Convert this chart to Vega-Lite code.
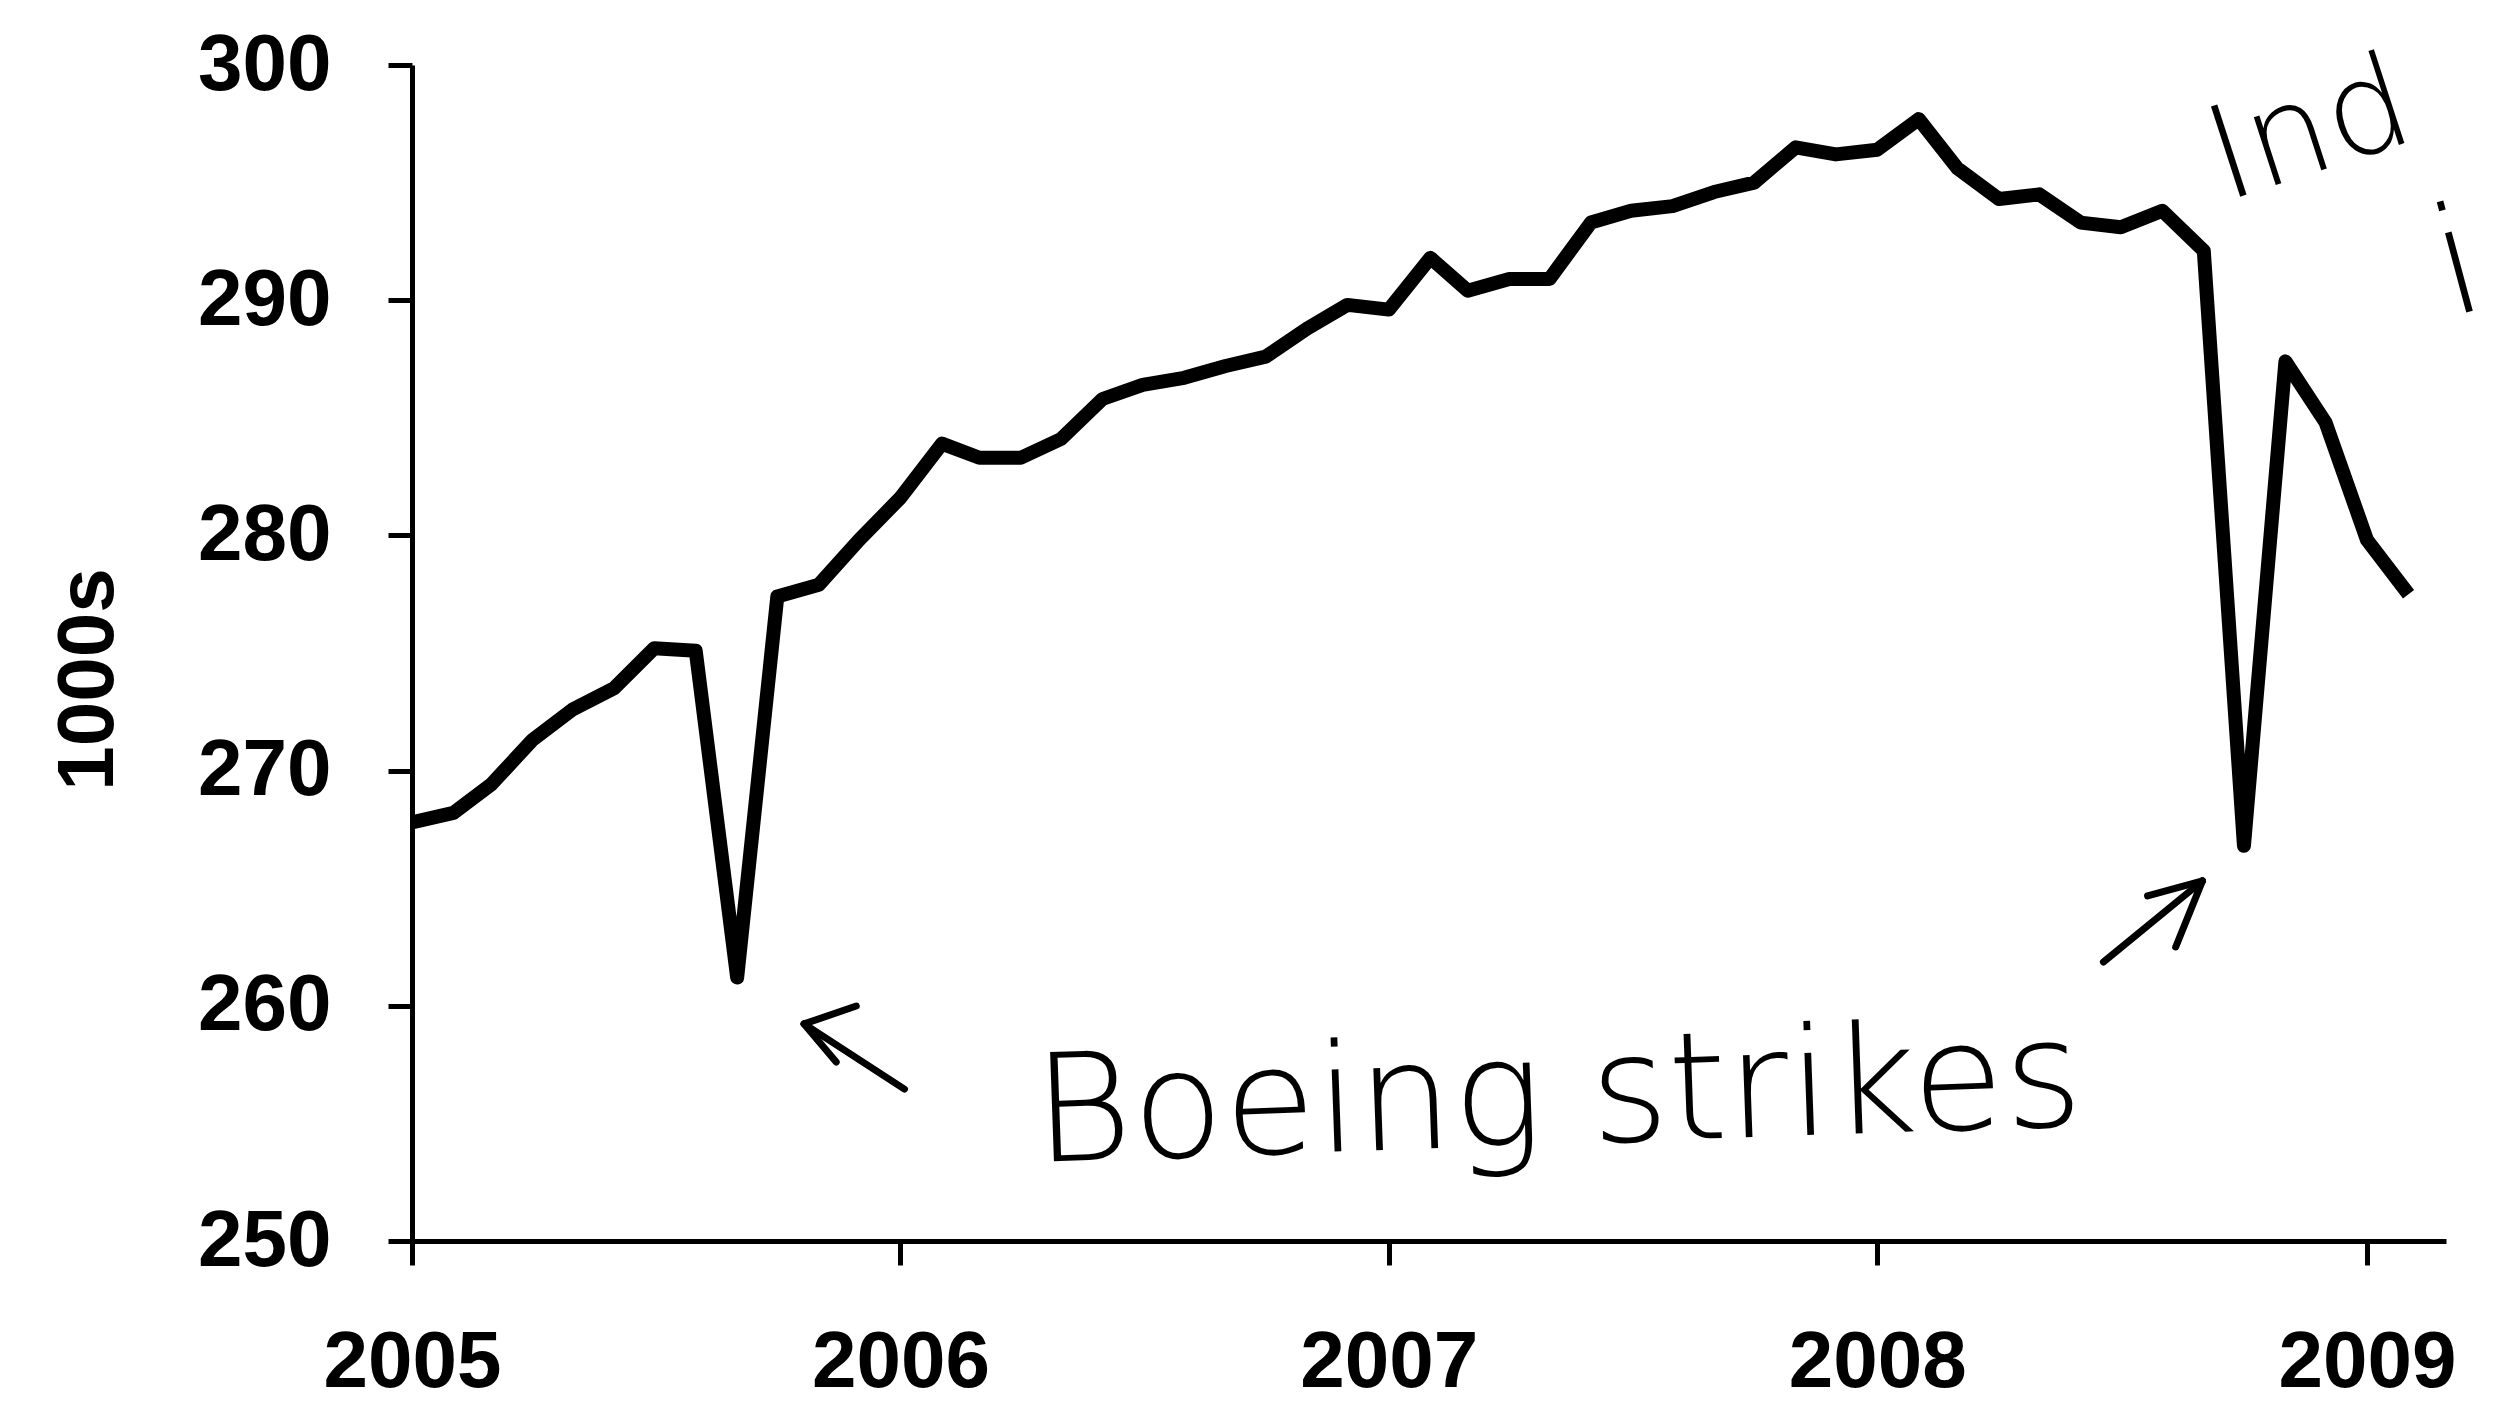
{
  "$schema": "https://vega.github.io/schema/vega-lite/v6.json",
  "width": 2034,
  "height": 1176,
  "autosize": {"type": "none"},
  "padding": {"left": 412, "top": 65, "right": 57, "bottom": 169},
  "background": "white",
  "config": {
    "view": {"stroke": null},
    "axis": {
      "grid": false,
      "domainColor": "black",
      "domainWidth": 5,
      "tickColor": "black",
      "tickWidth": 5,
      "tickSize": 24,
      "labelFont": "Liberation Sans",
      "labelFontWeight": "bold",
      "labelFontSize": 80,
      "labelColor": "black",
      "titleFont": "Liberation Sans",
      "titleFontWeight": "bold",
      "titleFontSize": 80,
      "titleColor": "black"
    }
  },
  "datasets": {
    "emp": [
      {"date": "2005-01-01", "value": 267.8},
      {"date": "2005-02-01", "value": 268.2},
      {"date": "2005-03-01", "value": 269.4},
      {"date": "2005-04-01", "value": 271.3},
      {"date": "2005-05-01", "value": 272.6},
      {"date": "2005-06-01", "value": 273.5},
      {"date": "2005-07-01", "value": 275.2},
      {"date": "2005-08-01", "value": 275.1},
      {"date": "2005-09-01", "value": 261.2},
      {"date": "2005-10-01", "value": 277.4},
      {"date": "2005-11-01", "value": 277.9},
      {"date": "2005-12-01", "value": 279.8},
      {"date": "2006-01-01", "value": 281.6},
      {"date": "2006-02-01", "value": 283.9},
      {"date": "2006-03-01", "value": 283.3},
      {"date": "2006-04-01", "value": 283.3},
      {"date": "2006-05-01", "value": 284.1},
      {"date": "2006-06-01", "value": 285.8},
      {"date": "2006-07-01", "value": 286.4},
      {"date": "2006-08-01", "value": 286.7},
      {"date": "2006-09-01", "value": 287.2},
      {"date": "2006-10-01", "value": 287.6},
      {"date": "2006-11-01", "value": 288.8},
      {"date": "2006-12-01", "value": 289.8},
      {"date": "2007-01-01", "value": 289.6},
      {"date": "2007-02-01", "value": 291.8},
      {"date": "2007-03-01", "value": 290.4},
      {"date": "2007-04-01", "value": 290.9},
      {"date": "2007-05-01", "value": 290.9},
      {"date": "2007-06-01", "value": 293.3},
      {"date": "2007-07-01", "value": 293.8},
      {"date": "2007-08-01", "value": 294.0},
      {"date": "2007-09-01", "value": 294.6},
      {"date": "2007-10-01", "value": 295.0},
      {"date": "2007-11-01", "value": 296.5},
      {"date": "2007-12-01", "value": 296.2},
      {"date": "2008-01-01", "value": 296.4},
      {"date": "2008-02-01", "value": 297.7},
      {"date": "2008-03-01", "value": 295.6},
      {"date": "2008-04-01", "value": 294.3},
      {"date": "2008-05-01", "value": 294.5},
      {"date": "2008-06-01", "value": 293.3},
      {"date": "2008-07-01", "value": 293.1},
      {"date": "2008-08-01", "value": 293.8},
      {"date": "2008-09-01", "value": 292.1},
      {"date": "2008-10-01", "value": 266.8},
      {"date": "2008-11-01", "value": 287.4},
      {"date": "2008-12-01", "value": 284.8},
      {"date": "2009-01-01", "value": 279.8},
      {"date": "2009-02-01", "value": 277.5}
    ],
    "arrows": [
      {"x": "2006-01-04", "y": 256.46, "x2": "2005-10-21", "y2": 259.23},
      {"x": "2005-11-29", "y": 259.99, "x2": "2005-10-21", "y2": 259.23},
      {"x": "2005-11-14", "y": 257.61, "x2": "2005-10-21", "y2": 259.23},
      {"x": "2008-06-18", "y": 261.86, "x2": "2008-08-31", "y2": 265.31},
      {"x": "2008-07-21", "y": 264.67, "x2": "2008-08-31", "y2": 265.31},
      {"x": "2008-08-11", "y": 262.5, "x2": "2008-08-31", "y2": 265.31}
    ],
    "notes": [
      {"x": "2006-04-12", "y": 253.36, "label": "Boeing strikes", "size": 150, "angle": -2},
      {"x": "2008-09-17", "y": 294.2, "label": "Ind", "size": 130, "angle": -18},
      {"x": "2009-03-04", "y": 289.3, "label": "i", "size": 150, "angle": -15}
    ]
  },
  "layer": [
    {
      "data": {"name": "emp"},
      "mark": {"type": "line", "color": "black", "strokeWidth": 14, "strokeJoin": "round", "strokeCap": "butt"},
      "encoding": {
        "x": {
          "field": "date",
          "type": "temporal",
          "scale": {
            "type": "utc",
            "domain": [
              {"year": 2005, "month": 1, "date": 1, "utc": true},
              {"year": 2009, "month": 3, "date": 1, "utc": true}
            ]
          },
          "axis": {
            "title": null,
            "format": "%Y",
            "values": [
              {"year": 2005, "month": 1, "date": 1, "utc": true},
              {"year": 2006, "month": 1, "date": 1, "utc": true},
              {"year": 2007, "month": 1, "date": 1, "utc": true},
              {"year": 2008, "month": 1, "date": 1, "utc": true},
              {"year": 2009, "month": 1, "date": 1, "utc": true}
            ],
            "labelPadding": 58,
            "labelFlush": false,
            "labelOverlap": false
          }
        },
        "y": {
          "field": "value",
          "type": "quantitative",
          "scale": {"domain": [250, 300], "zero": false, "nice": false},
          "axis": {
            "title": "1000s",
            "values": [250, 260, 270, 280, 290, 300],
            "labelPadding": 57,
            "titleAngle": -90,
            "titleX": -300,
            "titleY": 614,
            "titleAlign": "center",
            "titleBaseline": "alphabetic"
          }
        }
      }
    },
    {
      "data": {"name": "arrows"},
      "mark": {"type": "rule", "color": "black", "strokeWidth": 7, "strokeCap": "round"},
      "encoding": {
        "x": {"field": "x", "type": "temporal"},
        "y": {"field": "y", "type": "quantitative"},
        "x2": {"field": "x2"},
        "y2": {"field": "y2"}
      }
    },
    {
      "data": {"name": "notes"},
      "mark": {"type": "text", "font": "DejaVu Sans", "fontWeight": 200, "align": "left", "baseline": "alphabetic", "color": "black"},
      "encoding": {
        "x": {"field": "x", "type": "temporal"},
        "y": {"field": "y", "type": "quantitative"},
        "text": {"field": "label"},
        "size": {"field": "size", "type": "quantitative", "scale": null},
        "angle": {"field": "angle", "type": "quantitative", "scale": null}
      }
    }
  ]
}
